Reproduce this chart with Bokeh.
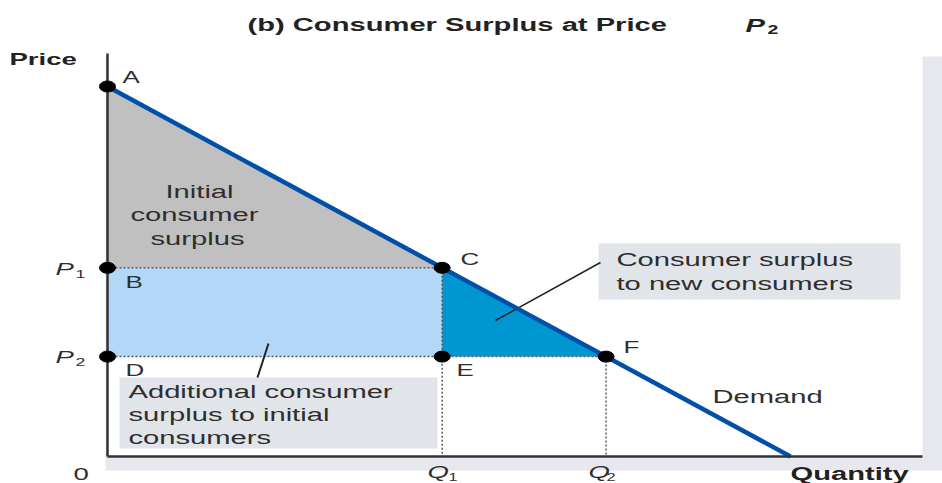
from bokeh.plotting import figure
from bokeh.models import Range1d, CustomJS
from bokeh.document import Document
from bokeh.core.properties import value
from bokeh.embed import file_html
from bokeh.resources import INLINE

# ---- data (abstract units) ----
demand_q = [0.0, 10.0]
demand_p = [10.0, 0.0]
q1, p1 = 4.9, 5.1
q2, p2 = 7.3, 2.7
point_names = ["A", "B", "C", "D", "E", "F"]
title_text = "(b) Consumer Surplus at Price"
initial_cs_lines = ["Initial", "consumer", "surplus"]
additional_lines = ["Additional consumer", "surplus to initial", "consumers"]
new_lines = ["Consumer surplus", "to new consumers"]

# ---- layout helpers (page pixels -> data units) ----
W, H = 942, 483
SX, SY = 68.3, 37.0
OX, OY = 107, 456          # pixel position of origin


def X(px):
    return (px - OX) / SX


def Y(py):
    return (OY - py) / SY


p = figure(width=W, height=H, output_backend="svg", toolbar_location=None,
           x_range=Range1d(X(0), X(W)), y_range=Range1d(Y(H), Y(0)),
           min_border=0, outline_line_color=None)
p.axis.visible = False
p.grid.visible = False
p.background_fill_color = "white"
p.border_fill_color = "white"

FONT = value("Liberation Sans")
TXT = "#2e2e2e"

# panel background with shadow
p.quad(left=X(105), right=X(942), bottom=Y(470), top=Y(56), fill_color="#e6e8ee", line_color=None)
p.quad(left=X(107), right=X(922), bottom=Y(456), top=Y(54), fill_color="white", line_color=None)

# label boxes
p.quad(left=X(119), right=X(437), bottom=Y(448), top=Y(377), fill_color="#e1e4e9", line_color=None)
p.quad(left=X(598), right=X(900), bottom=Y(299), top=Y(243), fill_color="#e1e4e9", line_color=None)

# surplus areas
a_p = demand_p[0]
p.patch([0, 0, q1], [a_p, p1, p1], fill_color="#c0c0c0", line_color=None)
p.patch([0, q1, q1, 0], [p1, p1, p2, p2], fill_color="#b3d7f6", line_color=None)
p.patch([q1, q1, q2], [p1, p2, p2], fill_color="#0096d2", line_color=None)

# dotted guide lines
dot = dict(line_color="#5a5a5a", line_width=1.5, line_dash="2 2")
p.line([0, q1], [p1, p1], **dot)
p.line([0, q2], [p2, p2], **dot)
p.line([q1, q1], [p1, 0], **dot)
p.line([q2, q2], [p2, 0], **dot)

# pointer lines
p.line([X(268), X(257)], [Y(343), Y(377)], line_color="#222222", line_width=2)
p.line([X(495), X(600)], [Y(320), Y(262)], line_color="#222222", line_width=1.5)

# demand curve
p.line(demand_q, demand_p, line_color="#0050a8", line_width=4.5)

# axes
p.line([0, 0], [Y(53), 0], line_color="#333333", line_width=2.5)
p.line([0, X(922)], [0, 0], line_color="#333333", line_width=2.5)

# points
pts_x = [0, 0, q1, 0, q1, q2]
pts_y = [a_p, p1, p1, p2, p2, p2]
p.ellipse(pts_x, pts_y, width=16, height=11, width_units="screen", height_units="screen",
          fill_color="black", line_color="black")


def label(px, py, t, size="18px", style="normal", color=TXT):
    p.text([X(px)], [Y(py)], text=[t], text_font=FONT, text_font_size=size,
           text_font_style=style, text_color=color, text_align="left", text_baseline="middle")


# point labels (left edge, vertical centre)
lab_pos = [(122, 77), (125, 282), (460, 259), (125, 370), (456, 370), (623, 347)]
for n, (lx, ly) in zip(point_names, lab_pos):
    label(lx, ly, n, size="16px")

# area texts
for t, (lx, ly) in zip(initial_cs_lines, [(165, 191), (130, 214), (150, 238)]):
    label(lx, ly, t)
for i, t in enumerate(additional_lines):
    label(128, 391 + 23 * i, t)
for i, t in enumerate(new_lines):
    label(616, 259 + 24 * i, t)
label(712, 396, "Demand")

# axis titles & ticks
label(9, 59, "Price", size="17px", style="bold", color="#222222")
label(790, 473, "Quantity", size="18px", style="bold", color="#222222")
label(73, 473, "0", size="17px")
label(55, 269, "P", size="17px", style="italic")
label(75, 273, "1", size="11px")
label(55, 357, "P", size="17px", style="italic")
label(75, 361, "2", size="11px")
label(427, 472, "Q", size="17px", style="italic")
label(448, 476, "1", size="10px")
label(588, 472, "Q", size="17px", style="italic")
label(606, 476, "2", size="10px")

# title
label(247, 24, title_text, size="18px", style="bold", color="#222222")
label(745, 25, "P", size="18px", style="bold italic", color="#222222")
label(767, 29, "2", size="12px", style="bold", color="#222222")

# the reference figure is horizontally stretched: stretch each text from its left anchor
stretch = CustomJS(code="""
const K = 1.62;
function fix(root) {
  root.querySelectorAll('text').forEach(t => {
    if (t.getAttribute('data-st')) return;
    const tr = t.getAttribute('transform') || '';
    const x = t.getAttribute('x') || '0';
    const y = t.getAttribute('y') || '0';
    t.setAttribute('transform', `${tr} translate(${x} ${y}) scale(${K} 1)`);
    t.setAttribute('x', '0');
    t.setAttribute('y', '0');
    t.setAttribute('data-st', '1');
  });
  root.querySelectorAll('*').forEach(el => { if (el.shadowRoot) fix(el.shadowRoot); });
}
fix(document);
for (const ms of [0, 30, 100, 250, 500, 1000, 2000]) setTimeout(() => fix(document), ms);
""")
doc = Document()
doc.add_root(p)
doc.js_on_event("document_ready", stretch)

open("out.html", "w").write(file_html(p, INLINE))
